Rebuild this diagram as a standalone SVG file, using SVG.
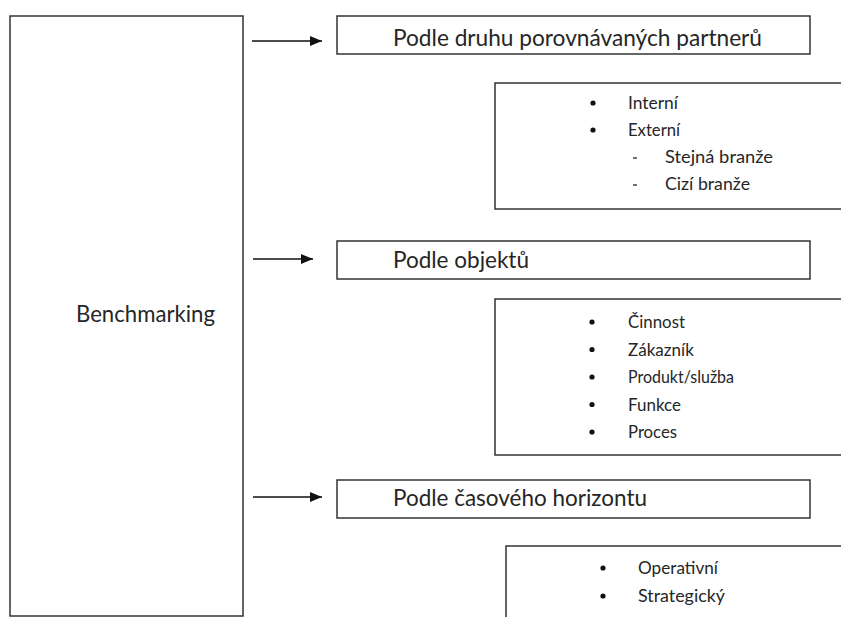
<svg xmlns="http://www.w3.org/2000/svg" width="841" height="617" viewBox="0 0 841 617">
<defs>
<style>
.box{fill:#fff;stroke:#333;stroke-width:1.5}
.hd{font-family:Lato,"Liberation Sans",sans-serif;font-size:24px;fill:#262626}
.it{font-family:Lato,"Liberation Sans",sans-serif;font-size:18px;fill:#262626}
.dot{fill:#111}
.dash{stroke:#222;stroke-width:1.3}
.conn{stroke:#111;stroke-width:1.5;fill:none}
</style>
<marker id="ah" markerUnits="userSpaceOnUse" markerWidth="13" markerHeight="12" refX="12" refY="6" orient="auto">
<path d="M0,1 L12,6 L0,11 Z" fill="#111"/>
</marker>
</defs>
<rect width="841" height="617" fill="#fff"/>
<g id="benchmarking">
<rect class="box" x="10" y="16" width="233" height="600"/>
<text class="hd" x="76" y="322" textLength="139" lengthAdjust="spacingAndGlyphs">Benchmarking</text>
</g>
<g id="connectors">
<line class="conn" x1="252" y1="41" x2="322" y2="41" marker-end="url(#ah)"/>
<line class="conn" x1="253" y1="259" x2="313" y2="259" marker-end="url(#ah)"/>
<line class="conn" x1="253" y1="497" x2="322" y2="497" marker-end="url(#ah)"/>
</g>
<g id="partneri">
<rect class="box" x="337" y="16" width="473" height="38"/>
<text class="hd" x="393" y="46" textLength="369" lengthAdjust="spacingAndGlyphs">Podle druhu porovnávaných partnerů</text>
</g>
<g id="partneri-list">
<rect class="box" x="495" y="83" width="350" height="126"/>
<circle class="dot" cx="593" cy="103" r="2.6"/>
<text class="it" x="628" y="109" textLength="50" lengthAdjust="spacingAndGlyphs">Interní</text>
<circle class="dot" cx="593" cy="130" r="2.6"/>
<text class="it" x="628" y="136" textLength="52" lengthAdjust="spacingAndGlyphs">Externí</text>
<line class="dash" x1="633" y1="158" x2="637" y2="158"/>
<text class="it" x="665" y="163" textLength="108" lengthAdjust="spacingAndGlyphs">Stejná branže</text>
<line class="dash" x1="633" y1="185" x2="637" y2="185"/>
<text class="it" x="665" y="190" textLength="85" lengthAdjust="spacingAndGlyphs">Cizí branže</text>
</g>
<g id="objekty">
<rect class="box" x="337" y="241" width="473" height="38"/>
<text class="hd" x="393" y="268" textLength="136" lengthAdjust="spacingAndGlyphs">Podle objektů</text>
</g>
<g id="objekty-list">
<rect class="box" x="495" y="299" width="350" height="156"/>
<circle class="dot" cx="592" cy="322" r="2.6"/>
<text class="it" x="628" y="328" textLength="57" lengthAdjust="spacingAndGlyphs">Činnost</text>
<circle class="dot" cx="592" cy="349.5" r="2.6"/>
<text class="it" x="628" y="355.5" textLength="66" lengthAdjust="spacingAndGlyphs">Zákazník</text>
<circle class="dot" cx="592" cy="377" r="2.6"/>
<text class="it" x="628" y="383" textLength="106" lengthAdjust="spacingAndGlyphs">Produkt/služba</text>
<circle class="dot" cx="592" cy="404.5" r="2.6"/>
<text class="it" x="628" y="410.5" textLength="53" lengthAdjust="spacingAndGlyphs">Funkce</text>
<circle class="dot" cx="592" cy="432" r="2.6"/>
<text class="it" x="628" y="438" textLength="49" lengthAdjust="spacingAndGlyphs">Proces</text>
</g>
<g id="horizont">
<rect class="box" x="337" y="480" width="473" height="38"/>
<text class="hd" x="393" y="506" textLength="254" lengthAdjust="spacingAndGlyphs">Podle časového horizontu</text>
</g>
<g id="horizont-list">
<rect class="box" x="506" y="546" width="340" height="80"/>
<circle class="dot" cx="603" cy="568" r="2.6"/>
<text class="it" x="638" y="574" textLength="80" lengthAdjust="spacingAndGlyphs">Operativní</text>
<circle class="dot" cx="603" cy="596" r="2.6"/>
<text class="it" x="638" y="602" textLength="87" lengthAdjust="spacingAndGlyphs">Strategický</text>
</g>
</svg>
